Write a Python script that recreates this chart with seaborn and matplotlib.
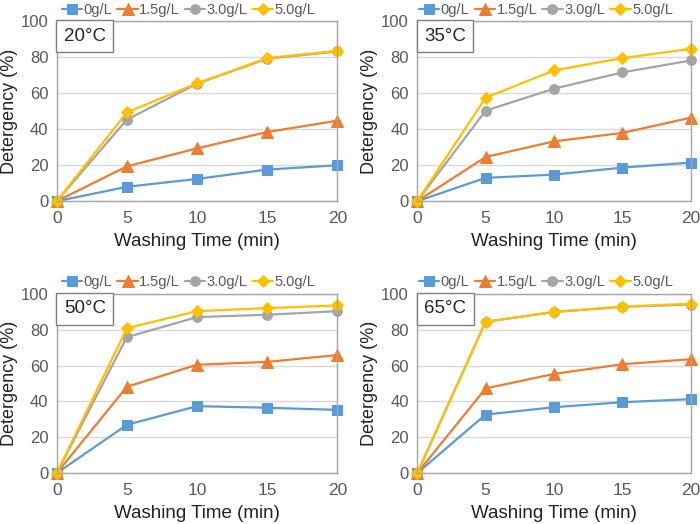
import numpy as np
import pandas as pd
import matplotlib
matplotlib.use("Agg")
import matplotlib.pyplot as plt
import seaborn as sns

# --- data ---
times = [0, 5, 10, 15, 20]
series_names = ["0g/L", "1.5g/L", "3.0g/L", "5.0g/L"]
panel_titles = ["20°C", "35°C", "50°C", "65°C"]

t20_0 = [0, 8.0, 12.4, 17.6, 20.0]
t20_15 = [0, 19.4, 29.4, 38.5, 44.8]
t20_30 = [0, 45.4, 65.4, 79.3, 83.3]
t20_50 = [0, 49.4, 65.6, 79.6, 83.7]

t35_0 = [0, 13.0, 14.8, 18.7, 21.5]
t35_15 = [0, 24.6, 33.3, 38.0, 46.5]
t35_30 = [0, 50.4, 62.6, 71.7, 78.3]
t35_50 = [0, 57.6, 72.8, 79.6, 84.8]

t50_0 = [0, 27.0, 37.4, 36.5, 35.3]
t50_15 = [0, 48.2, 60.5, 62.1, 65.9]
t50_30 = [0, 75.9, 87.1, 88.4, 90.4]
t50_50 = [0, 80.9, 90.4, 92.1, 93.6]

t65_0 = [0, 32.7, 36.8, 39.6, 41.3]
t65_15 = [0, 47.3, 55.4, 60.8, 63.6]
t65_30 = [0, 84.5, 89.9, 92.8, 94.1]
t65_50 = [0, 84.5, 90.0, 93.0, 94.5]

panels = [
    [t20_0, t20_15, t20_30, t20_50],
    [t35_0, t35_15, t35_30, t35_50],
    [t50_0, t50_15, t50_30, t50_50],
    [t65_0, t65_15, t65_30, t65_50],
]

colors = ["#5B9BD5", "#ED7D31", "#A5A5A5", "#FFC000"]
markers = ["s", "^", "o", "D"]
msizes = [7.5, 8, 7, 6.5]

sns.set_theme(style="white")
plt.rcParams["font.family"] = ["Liberation Sans", "DejaVu Sans"]

fig = plt.figure(figsize=(7, 5.24), dpi=100)
# axes boxes in figure fractions (left, bottom, width, height)
boxes = [
    (0.081, 0.616, 0.401, 0.343),
    (0.596, 0.616, 0.391, 0.343),
    (0.081, 0.097, 0.401, 0.342),
    (0.596, 0.097, 0.391, 0.342),
]

for box, vals, title in zip(boxes, panels, panel_titles):
    ax = fig.add_axes(box)
    for name, v, c, m, ms in zip(series_names, vals, colors, markers, msizes):
        sns.lineplot(x=times, y=v, ax=ax, color=c, marker=m, markersize=ms,
                     markeredgecolor=c, linewidth=1.6, label=name, clip_on=False)
    ax.set_xlim(0, 20)
    ax.set_ylim(0, 100)
    ax.set_xticks(times)
    ax.set_yticks([0, 20, 40, 60, 80, 100])
    ax.yaxis.grid(True, color="#D9D9D9", linewidth=1)
    ax.xaxis.grid(False)
    for s in ax.spines.values():
        s.set_color("#A6A6A6")
        s.set_linewidth(1)
    ax.tick_params(axis="x", direction="in", length=4, width=1, color="#A6A6A6",
                   labelsize=12.5, labelcolor="#595959", pad=7)
    ax.tick_params(axis="y", length=0, labelsize=12, labelcolor="#595959", pad=6)
    ax.set_xlabel("Washing Time (min)", fontsize=13.5, color="#222222", labelpad=5)
    ax.set_ylabel("Detergency (%)", fontsize=13, color="#222222", labelpad=2)
    ax.text(0.025, 0.965, title, transform=ax.transAxes, fontsize=13.5, va="top", ha="left",
            bbox=dict(boxstyle="square,pad=0.4", facecolor="white", edgecolor="#7F7F7F", linewidth=1))
    leg = ax.legend(loc="lower center", bbox_to_anchor=(0.47, 0.985), ncol=4, frameon=False,
                    fontsize=10.5, handlelength=1.4, handletextpad=0.1, columnspacing=0.35,
                    borderaxespad=0.1)
    for t in leg.get_texts():
        t.set_color("#595959")

plt.savefig("out.png", dpi=100)
